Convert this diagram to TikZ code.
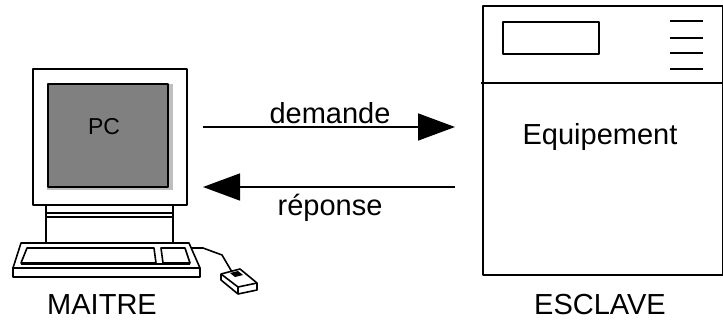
\documentclass[tikz,border=0pt]{standalone}
\usepackage{fontspec}
\setmainfont{Liberation Sans}
\usetikzlibrary{arrows.meta}
\definecolor{screen}{RGB}{128,128,128}
\definecolor{screenedge}{RGB}{190,190,190}

\begin{document}
\begin{tikzpicture}[x=1pt,y=-1pt,line width=1.6pt,line join=round,
  bigtext/.style={font=\fontsize{29}{32}\selectfont},
  msg/.style={-{Triangle[length=37pt,width=27pt]}}]
\useasboundingbox (0,0) rectangle (723,321);

% Monitor
\draw (33,69) rectangle (187,205);
\fill[screenedge] (47,84) rectangle (173,190);
\draw[fill=screen] (48,84) rectangle (168,187);
\node[font=\fontsize{23}{26}\selectfont] (pc) at (104,127) {PC};

% Stand
\draw (46,205) rectangle (173,243);
\draw[line width=1.2pt] (46,213) -- (173,213);
\draw[line width=1.2pt] (46,217) -- (173,217);

% Keyboard
\draw (21,243) -- (189,243) -- (200,268) -- (13,268) -- cycle;
\draw (13,268) rectangle (200,277);
\draw (27,248) -- (154,248) -- (156,263) -- (21,263) -- cycle;
\draw (161,248) -- (185,248) -- (190,263) -- (163,263) -- cycle;
\draw[line width=2.4pt] (21,264) -- (190,264);

% Mouse and its cable
\draw (191,248) -- (203,248) -- (222,255) -- (232,272);
\draw[fill=white] (221,274) -- (240,269) -- (257,283) -- (257,290) -- (238,294) -- (221,280) -- cycle;
\draw (221,274) -- (238,287) -- (257,283);
\draw (238,287) -- (238,294);
\fill (230,273) -- (238,271) -- (243,275) -- (235,277) -- cycle;

\node[bigtext] (maitre) at (102,305) {MAITRE};

% Slave device
\draw (483,6) rectangle (723,275);
\draw (481,83) -- (723,83);
\draw (503,22) rectangle (599,54);
\foreach \y in {21,38,53,69}
  \draw (670,\y) -- (703,\y);
\node[bigtext] (equip) at (600,137) {Equipement};
\node[bigtext] (esclave) at (600,305) {ESCLAVE};

% Request and answer
\coordinate (reqa) at (203,127);
\coordinate (reqb) at (455,127);
\coordinate (repa) at (455,187);
\coordinate (repb) at (203,187);
\draw[msg] (reqa) -- (reqb);
\draw[msg] (repa) -- (repb);
\node[bigtext] (dem) at (330,113) {demande};
\node[bigtext] (rep) at (330,208) {réponse};
\end{tikzpicture}
\end{document}
